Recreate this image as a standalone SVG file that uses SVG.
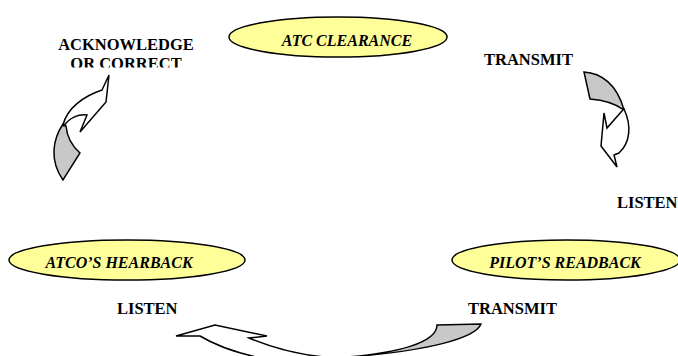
<svg xmlns="http://www.w3.org/2000/svg" width="678" height="356" viewBox="0 0 678 356">
<style>
.node{fill:#FFFF99;stroke:#000;stroke-width:1.5}
.nt{font-family:"Liberation Serif",serif;font-weight:bold;font-style:italic;font-size:16px;fill:#000;text-anchor:middle}
.lb{font-family:"Liberation Serif",serif;font-weight:bold;font-size:16.5px;fill:#000}
.front{fill:#FFFFFF;stroke:#000;stroke-width:1.5;stroke-linejoin:miter}
.back{fill:#C8C8C8;stroke:#000;stroke-width:1.5}
</style>
<defs>
<clipPath id="clipAck"><rect x="0" y="0" width="678" height="67.5"/></clipPath>
</defs>
<rect width="678" height="356" fill="#fff"/>
<g id="atc-clearance">
<ellipse class="node" cx="338" cy="37" rx="109" ry="20"/>
<text class="nt" x="347" y="46">ATC CLEARANCE</text>
</g>
<g id="pilots-readback">
<ellipse class="node" cx="566" cy="260" rx="114" ry="20"/>
<text class="nt" x="565" y="268">PILOT’S READBACK</text>
</g>
<g id="atcos-hearback">
<ellipse class="node" cx="127" cy="260" rx="118" ry="20"/>
<text class="nt" x="119" y="268">ATCO’S HEARBACK</text>
</g>
<g id="labels">
<text class="lb" x="126" y="50" text-anchor="middle">ACKNOWLEDGE</text>
<text class="lb" x="126" y="69" text-anchor="middle" clip-path="url(#clipAck)">OR CORRECT</text>
<text class="lb" x="484" y="65">TRANSMIT</text>
<text class="lb" x="617" y="208">LISTEN</text>
<text class="lb" x="117" y="314">LISTEN</text>
<text class="lb" x="468" y="314">TRANSMIT</text>
</g>
<g id="connectors">
<!-- top-right: transmit -> listen -->
<path class="back" d="M584,72 C601,73 617,84 624,110 C616,104 603,100 590,99 Z"/>
<path class="front" d="M624,109 C632,126 630,143 619,153 L614,155 L617,167 L601,146 L604,113 L607,128 L621,112 Z"/>
<!-- left: acknowledge -->
<path class="back" d="M63,124 C53,139 49,160 63,180 L80,153 C72,146 67,137 66,126 Z"/>
<path class="front" d="M63,125 C67,108 84,96 102,90 L109,75 L106,102 L80,132 L87,115 C78,114 69,118 64,126 Z"/>
<!-- bottom: transmit -> listen -->
<path class="back" d="M437,325 L481,324 C476,337 432,352 333,358 C400,354 437,342 437,325 Z"/>
<path class="front" d="M176,336 L215,325 L267,336 L249,338 C280,351 310,357 340,358 L340,364 L300,364 C262,360 225,351 200,336 Z"/>
</g>
</svg>
